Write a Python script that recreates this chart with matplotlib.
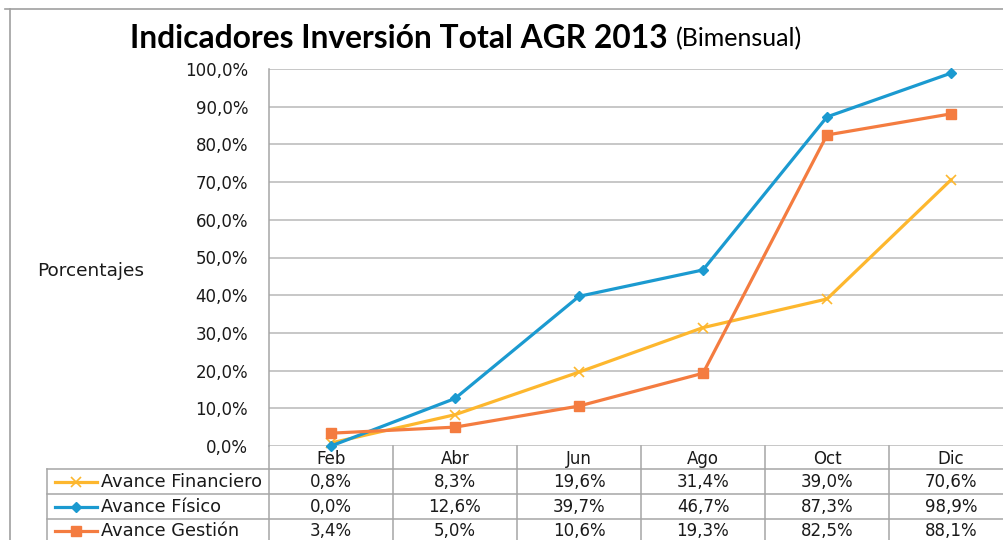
import matplotlib
matplotlib.use("Agg")
import matplotlib.pyplot as plt
from matplotlib import transforms
from matplotlib.lines import Line2D

categories = ["Feb", "Abr", "Jun", "Ago", "Oct", "Dic"]
financiero = [0.8, 8.3, 19.6, 31.4, 39.0, 70.6]
fisico = [0.0, 12.6, 39.7, 46.7, 87.3, 98.9]
gestion = [3.4, 5.0, 10.6, 19.3, 82.5, 88.1]
series_names = ["Avance Financiero", "Avance Físico", "Avance Gestión"]
yticks = [0, 10, 20, 30, 40, 50, 60, 70, 80, 90, 100]

W, H = 1004, 540
fig = plt.figure(figsize=(W / 100, H / 100), dpi=100)
fig.patch.set_facecolor("white")

def fx(px):
    return px / W

def fy(py):
    return 1 - py / H

left, right, top, bottom = 269, 1013, 69, 446
ax = fig.add_axes([fx(left), fy(bottom), fx(right - left), (bottom - top) / H])
ax.set_xlim(-0.5, len(categories) - 0.5)
ax.set_ylim(0, 100)

grid_c = "#BEBEBE"
tab_c = "#A6A6A6"
txt_c = "#1a1a1a"
for y in yticks:
    ax.axhline(y, color=grid_c, lw=1.2, zorder=1)
for s in ax.spines.values():
    s.set_visible(False)
ax.set_xticks([])
ax.set_yticks(yticks)
ax.set_yticklabels([f"{v:.1f}".replace(".", ",") + "%" for v in yticks],
                   fontsize=12, color=txt_c, family="DejaVu Sans")
ax.tick_params(axis="y", length=0, pad=15)

c_fin = "#FDB72E"
c_fis = "#1B9AD0"
c_ges = "#F47C40"
x = list(range(len(categories)))
styles = [
    (financiero, c_fin, "x", 7, 1.2),
    (fisico, c_fis, "D", 5.5, 1),
    (gestion, c_ges, "s", 7, 1),
]
for vals, c, m, ms, mew in styles:
    ax.plot(x, vals, color=c, lw=2.3, marker=m, ms=ms, mew=mew,
            mec=c, mfc=c, zorder=3, clip_on=False)

# Outer chart border
fig.add_artist(Line2D([fx(5), fx(1004)], [fy(9), fy(9)], color="#A0A0A0", lw=1.2))
fig.add_artist(Line2D([fx(10), fx(10)], [fy(9), 0], color="#A0A0A0", lw=1.2))

# Title
t1 = fig.text(fx(130), fy(38), "Indicadores Inversión Total AGR 2013", fontsize=22.9,
              fontweight="bold", family="Lato", va="center", ha="left", color="black")
fig.canvas.draw()
bb = t1.get_window_extent(renderer=fig.canvas.get_renderer())
fig.text(fx(bb.x1 + 8), fy(39), "(Bimensual)", fontsize=18, family="Lato",
         va="center", ha="left", color="black")

fig.text(fx(37), fy(271), "Porcentajes", fontsize=13.3, family="DejaVu Sans",
         va="center", ha="left", color=txt_c)

# Data table
trans = transforms.blended_transform_factory(ax.transData, fig.transFigure)
row_lines = [469, 494, 519]
for i in range(len(categories) + 1):
    xb = i - 0.5
    fig.add_artist(Line2D([xb, xb], [fy(446), fy(560)], transform=trans,
                          color=tab_c, lw=1.1))
ax.plot([-0.5, -0.5], [0, 100], color=tab_c, lw=1.1, zorder=2, clip_on=False)
for ry in row_lines:
    fig.add_artist(Line2D([fx(47), fx(1013)], [fy(ry), fy(ry)], color=tab_c, lw=1.1))
fig.add_artist(Line2D([fx(47), fx(47)], [fy(469), 0], color=tab_c, lw=1.1))

for i, cat in enumerate(categories):
    fig.text(i, fy(459), cat, transform=trans, ha="center", va="center",
             fontsize=12, family="DejaVu Sans", color=txt_c)

row_y = [482, 507, 531]
for (vals, c, m, ms, mew), name, ry in zip(styles, series_names, row_y):
    fig.add_artist(Line2D([fx(55), fx(97)], [fy(ry), fy(ry)], color=c, lw=2.3))
    fig.add_artist(Line2D([fx(76)], [fy(ry)], color=c, marker=m, ms=ms, mew=mew,
                          mec=c, mfc=c, lw=0))
    fig.text(fx(101), fy(ry), name, ha="left", va="center", fontsize=12.8,
             family="DejaVu Sans", color=txt_c)
    for i, v in enumerate(vals):
        fig.text(i, fy(ry), f"{v:.1f}".replace(".", ",") + "%", transform=trans,
                 ha="center", va="center", fontsize=12, family="DejaVu Sans",
                 color=txt_c)

fig.savefig("out.png", dpi=100)
